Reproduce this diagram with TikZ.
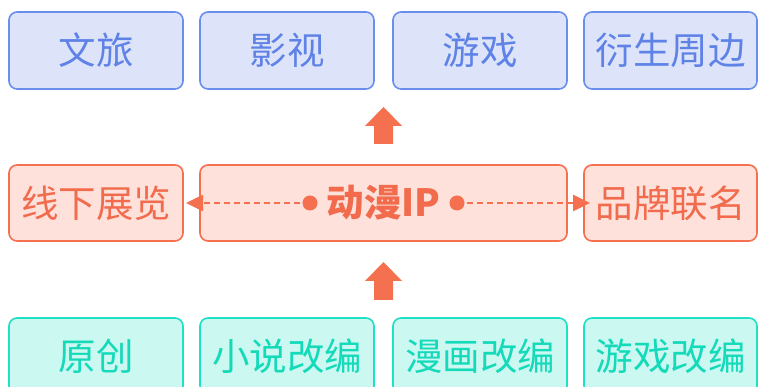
\documentclass[tikz,border=0pt]{standalone}
\usepackage{fontspec}
\setmainfont{Noto Sans CJK SC}
\usetikzlibrary{arrows.meta}
\definecolor{bfill}{HTML}{DDE4FA}
\definecolor{bdraw}{HTML}{6A8EEB}
\definecolor{btext}{HTML}{5F82E6}
\definecolor{ofill}{HTML}{FDE1DA}
\definecolor{odraw}{HTML}{F4704F}
\definecolor{otext}{HTML}{F26B4C}
\definecolor{tfill}{HTML}{CBF8F1}
\definecolor{tdraw}{HTML}{1FE0C2}
\definecolor{ttext}{HTML}{14DABA}
\tikzset{
  box/.style={rounded corners=8pt, line width=1.6pt, inner sep=0pt, outer sep=0pt,
    font=\fontsize{37.5}{40}\selectfont},
  bluebox/.style={box, draw=bdraw, fill=bfill, text=btext},
  orangebox/.style={box, draw=odraw, fill=ofill, text=otext},
  tealbox/.style={box, draw=tdraw, fill=tfill, text=ttext},
  bigarrow/.style={fill=odraw, draw=none},
  dashconn/.style={draw=odraw, line width=2.6pt, dash pattern=on 6pt off 4pt},
}
\begin{document}
\begin{tikzpicture}[x=1pt,y=-1pt]
\useasboundingbox (0,0) rectangle (758,387);
% top row
\node[bluebox, minimum width=174pt, minimum height=77pt] (t1) at (96,50.5) {文旅};
\node[bluebox, minimum width=174pt, minimum height=77pt] (t2) at (287,50.5) {影视};
\node[bluebox, minimum width=174pt, minimum height=77pt] (t3) at (480,50.5) {游戏};
\node[bluebox, minimum width=173pt, minimum height=77pt] (t4) at (670.5,50.5) {衍生周边};
% middle row
\node[orangebox, minimum width=174pt, minimum height=76pt] (m1) at (96,203) {线下展览};
\node[orangebox, minimum width=367pt, minimum height=76pt] (m2) at (383.5,203) {};
\node[orangebox, minimum width=173pt, minimum height=76pt] (m3) at (670.5,203) {品牌联名};
\node[font=\fontsize{37.5}{40}\selectfont\bfseries, text=otext, inner sep=0pt] (ip) at (383.5,203) {动漫IP};
% bottom row
\node[tealbox, minimum width=174pt, minimum height=76pt] (b1) at (96,356) {原创};
\node[tealbox, minimum width=174pt, minimum height=76pt] (b2) at (287,356) {小说改编};
\node[tealbox, minimum width=174pt, minimum height=76pt] (b3) at (480,356) {漫画改编};
\node[tealbox, minimum width=173pt, minimum height=76pt] (b4) at (670.5,356) {游戏改编};
% dots and dashed connectors
\coordinate (ld) at (310,203);
\coordinate (rd) at (457,203);
\fill[odraw] (ld) circle (7.5pt);
\fill[odraw] (rd) circle (7.5pt);
\draw[dashconn, -{Triangle[length=17pt,width=16pt]}] (ld) -- ([xshift=3pt]m1.east |- ld);
\draw[dashconn, -{Triangle[length=17pt,width=16pt]}] (rd) -- ([xshift=6pt]m3.west |- rd);
% big arrows
\fill[bigarrow] (383.5,107) -- (402,126) -- (393,126) -- (393,144) -- (374,144) -- (374,126) -- (365,126) -- cycle;
\fill[bigarrow] (383.5,262) -- (402,281) -- (393,281) -- (393,300) -- (374,300) -- (374,281) -- (365,281) -- cycle;
\end{tikzpicture}
\end{document}
